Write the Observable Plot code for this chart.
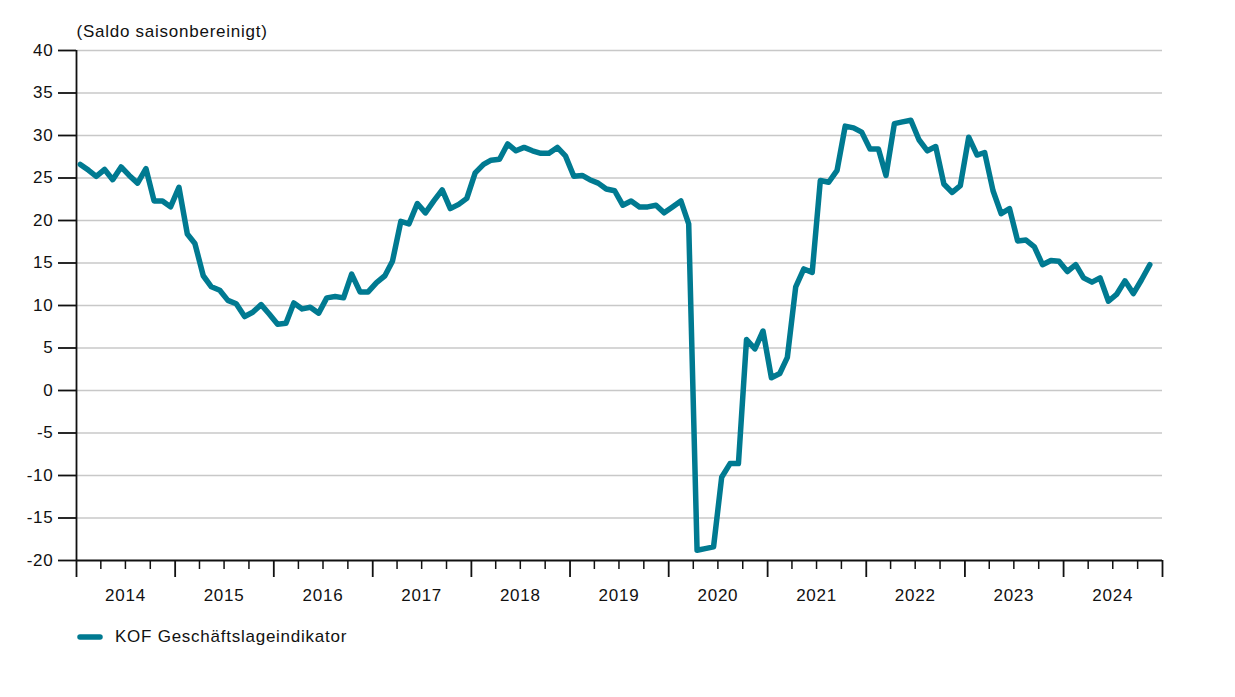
<!DOCTYPE html>
<html><head><meta charset="utf-8">
<script src="https://cdn.jsdelivr.net/npm/d3@7"></script>
<script src="https://cdn.jsdelivr.net/npm/@observablehq/plot@0.6"></script>
<style>
body{margin:0;background:#fff;font-family:"Liberation Sans",Arial,sans-serif;}
#chart{position:absolute;left:0;top:0;}
#legend{position:absolute;left:76px;top:627px;display:flex;align-items:center;font-size:17px;letter-spacing:0.75px;color:#111;line-height:20px;}
</style></head><body>
<div id="chart"></div>
<div id="legend"><svg width="28" height="12"><line x1="4" y1="6" x2="24" y2="6" stroke="#007a91" stroke-width="5.5" stroke-linecap="round"/></svg><span style="margin-left:11px">KOF Geschäftslageindikator</span></div>
<script>
const seriesName = "KOF Geschäftslageindikator";
const yLabel = "(Saldo saisonbereinigt)";
const startYear = 2014;
const endYear = 2025;
const values = [
  26.6, 25.9, 25.2, 26.0, 24.8, 26.3, 25.3, 24.4, 26.1, 22.3, 22.3, 21.6,
  23.9, 18.4, 17.3, 13.5, 12.2, 11.8, 10.6, 10.2, 8.7, 9.2, 10.1, 9.0,
  7.8, 7.9, 10.3, 9.6, 9.8, 9.1, 10.9, 11.05, 10.9, 13.7, 11.6, 11.6,
  12.7, 13.5, 15.2, 19.9, 19.6, 22.0, 20.9, 22.3, 23.6, 21.4, 21.9, 22.6,
  25.6, 26.6, 27.1, 27.2, 29.0, 28.2, 28.6, 28.2, 27.9, 27.9, 28.6, 27.6,
  25.2, 25.3, 24.8, 24.4, 23.7, 23.5, 21.8, 22.3, 21.6, 21.6, 21.8, 20.9,
  21.6, 22.3, 19.6, -18.8, -18.6, -18.4, -10.2, -8.6, -8.6, 6.0, 4.9, 7.0,
  1.5, 2.0, 3.9, 12.2, 14.3, 13.9, 24.7, 24.5, 25.9, 31.1, 30.9, 30.4,
  28.4, 28.4, 25.3, 31.4, 31.6, 31.8, 29.5, 28.2, 28.7, 24.3, 23.3, 24.1,
  29.8, 27.7, 28.0, 23.5, 20.8, 21.4, 17.6, 17.7, 16.9, 14.8, 15.3, 15.2,
  14.0, 14.8, 13.25, 12.75, 13.25, 10.5, 11.3, 12.9, 11.4, 13.0, 14.8
];
const yTicks = [-20, -15, -10, -5, 0, 5, 10, 15, 20, 25, 30, 35, 40];

const start = new Date(Date.UTC(startYear, 0, 1));
const end = new Date(Date.UTC(endYear, 0, 1));
const data = values.map((v, i) => ({date: d3.utcDay.offset(d3.utcMonth.offset(start, i), 14), value: v}));
const yearTicks = d3.utcYear.range(start, d3.utcDay.offset(end, 1));
const quarterTicks = d3.utcMonth.every(3).range(start, end).filter(d => d.getUTCMonth() !== 0);
const midYears = d3.utcYear.range(start, end).map(d => d3.utcMonth.offset(d, 6));

const plot = Plot.plot({
  width: 1235, height: 610,
  marginLeft: 76, marginRight: 73, marginTop: 50, marginBottom: 50,
  style: {fontFamily: "'Liberation Sans', Arial, sans-serif", fontSize: "17px", letterSpacing: "0.75px", color: "#111", background: "#fff"},
  x: {type: "utc", domain: [start, end]},
  y: {domain: [-20, 40]},
  marks: [
    Plot.gridY(yTicks.filter(d => d > -20), {stroke: "#c8c8c8", strokeOpacity: 1, strokeWidth: 1.6}),
    Plot.axisY(yTicks, {tickSize: 18, tickPadding: 5, tickFormat: d => String(d), label: null, stroke: "#111", strokeWidth: 1.8, fontSize: 17}),
    Plot.ruleX([start], {y1: -20, y2: 40, stroke: "#111", strokeWidth: 1.8}),
    Plot.ruleY([-20], {stroke: "#111", strokeWidth: 1.8}),
    Plot.axisX(quarterTicks, {tickSize: 9, tickFormat: () => "", label: null, stroke: "#111", strokeWidth: 1.5}),
    Plot.axisX(yearTicks, {tickSize: 17, tickFormat: () => "", label: null, stroke: "#111", strokeWidth: 1.8}),
    Plot.axisX(midYears, {tickSize: 0, tickPadding: 28, tickFormat: "%Y", label: null, fontSize: 17}),
    Plot.line(data, {x: "date", y: "value", stroke: "#007a91", strokeWidth: 5.5, strokeLinejoin: "round", strokeLinecap: "round"}),
    Plot.text([yLabel], {frameAnchor: "top-left", dy: -19, textAnchor: "start", lineAnchor: "middle", fontSize: 17, fill: "#111"})
  ]
});
document.getElementById("chart").appendChild(plot);
</script>
</body></html>
